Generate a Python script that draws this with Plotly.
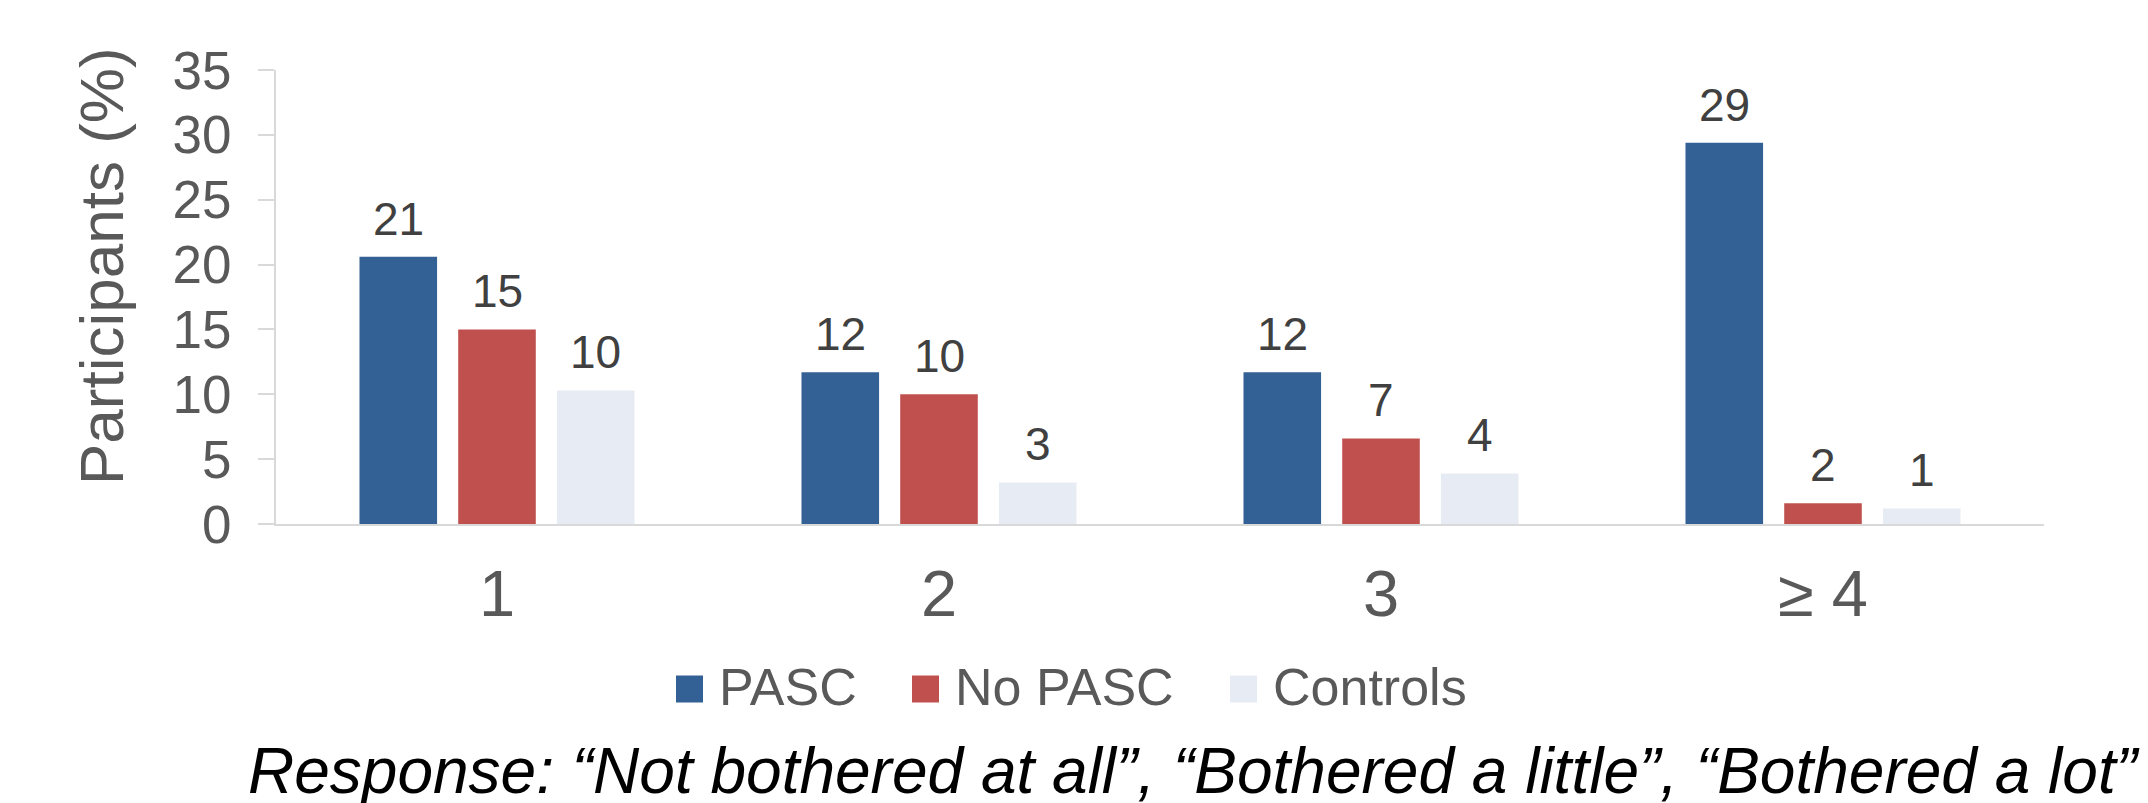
import plotly.graph_objects as go

# Number of symptoms bothering participants, share of each group (%)
categories = ["1", "2", "3", "≥ 4"]
series_names = ["PASC", "No PASC", "Controls"]
pasc = [20.6, 11.7, 11.7, 29.4]
no_pasc = [15.0, 10.0, 6.6, 1.6]
controls = [10.3, 3.2, 3.9, 1.2]
series_values = [pasc, no_pasc, controls]
series_colors = ["#336195", "#C0504D", "#E7ECF4"]

y_ticks = [0, 5, 10, 15, 20, 25, 30, 35]
y_title = "Participants (%)"
caption = "Response: \u201cNot bothered at all\u201d, \u201cBothered a little\u201d, \u201cBothered a lot\u201d"

FONT = "Liberation Sans, Arial, sans-serif"
W, H = 2148, 803
L, R, T, B = 276, 2044, 70, 524  # plot area in pixels
BARGAP = 0.33
GROUPGAP = 0.214


def px(x):
    return (x - L) / (R - L)


def py(y):
    return (B - y) / (B - T)


fig = go.Figure()
for name, vals, color in zip(series_names, series_values, series_colors):
    fig.add_trace(go.Bar(
        x=categories, y=vals, name=name,
        marker=dict(color=color, line=dict(width=0)),
        showlegend=False,
    ))

annotations = []

# Value labels above each bar, offset horizontally to the bar's slot in its group
# (annotation x is the category index on the category axis)
slot = (1 - BARGAP) * (R - L) / len(categories) / len(series_names)
for i, vals in enumerate(series_values):
    for j, v in enumerate(vals):
        annotations.append(dict(
            text=f"{v:.0f}", x=j, y=v, xref="x", yref="y",
            xshift=(i - (len(series_names) - 1) / 2) * slot, yshift=10,
            xanchor="center", yanchor="bottom", showarrow=False,
            font=dict(family=FONT, size=46, color="#404040"),
        ))

# Legend drawn as squares and labels below the axis
legend_x = [676, 912, 1230]
legend_y = 689
sq = 27
shapes = []
for name, color, lx in zip(series_names, series_colors, legend_x):
    shapes.append(dict(type="rect", xref="paper", yref="paper",
                       x0=px(lx), x1=px(lx + sq),
                       y0=py(legend_y + sq / 2), y1=py(legend_y - sq / 2),
                       fillcolor=color, line=dict(width=0)))
    annotations.append(dict(text=name, xref="paper", yref="paper",
                            x=px(lx + sq + 14), y=py(legend_y - 2),
                            xanchor="left", yanchor="middle", showarrow=False,
                            font=dict(family=FONT, size=52, color="#595959")))

annotations.append(dict(text=y_title, xref="paper", yref="paper",
                        x=px(101), y=py(266), textangle=-90,
                        xanchor="center", yanchor="middle", showarrow=False,
                        font=dict(family=FONT, size=62, color="#595959")))
annotations.append(dict(text="<i>" + caption + "</i>", xref="paper", yref="paper",
                        x=px(1194), y=py(771),
                        xanchor="center", yanchor="middle", showarrow=False,
                        font=dict(family=FONT, size=64, color="#000000")))

fig.update_layout(
    width=W, height=H,
    margin=dict(l=L, r=W - R, t=T, b=H - B, autoexpand=False),
    paper_bgcolor="white", plot_bgcolor="white",
    barmode="group", bargap=BARGAP, bargroupgap=GROUPGAP,
    font=dict(family=FONT, color="#595959"),
    shapes=shapes, annotations=annotations,
)
fig.update_xaxes(
    type="category", showgrid=False, showline=True,
    linecolor="#D9D9D9", linewidth=2, ticks="",
    tickfont=dict(family=FONT, size=65, color="#595959"),
    ticklabelstandoff=12, zeroline=False,
)
fig.update_yaxes(
    range=[0, 35], tickvals=y_ticks, showgrid=False, zeroline=False,
    showline=True, linecolor="#D9D9D9", linewidth=2,
    ticks="outside", ticklen=16, tickcolor="#D9D9D9", tickwidth=2,
    tickfont=dict(family=FONT, size=53, color="#595959"),
    ticklabelstandoff=16,
)

fig.write_html("out.html")
